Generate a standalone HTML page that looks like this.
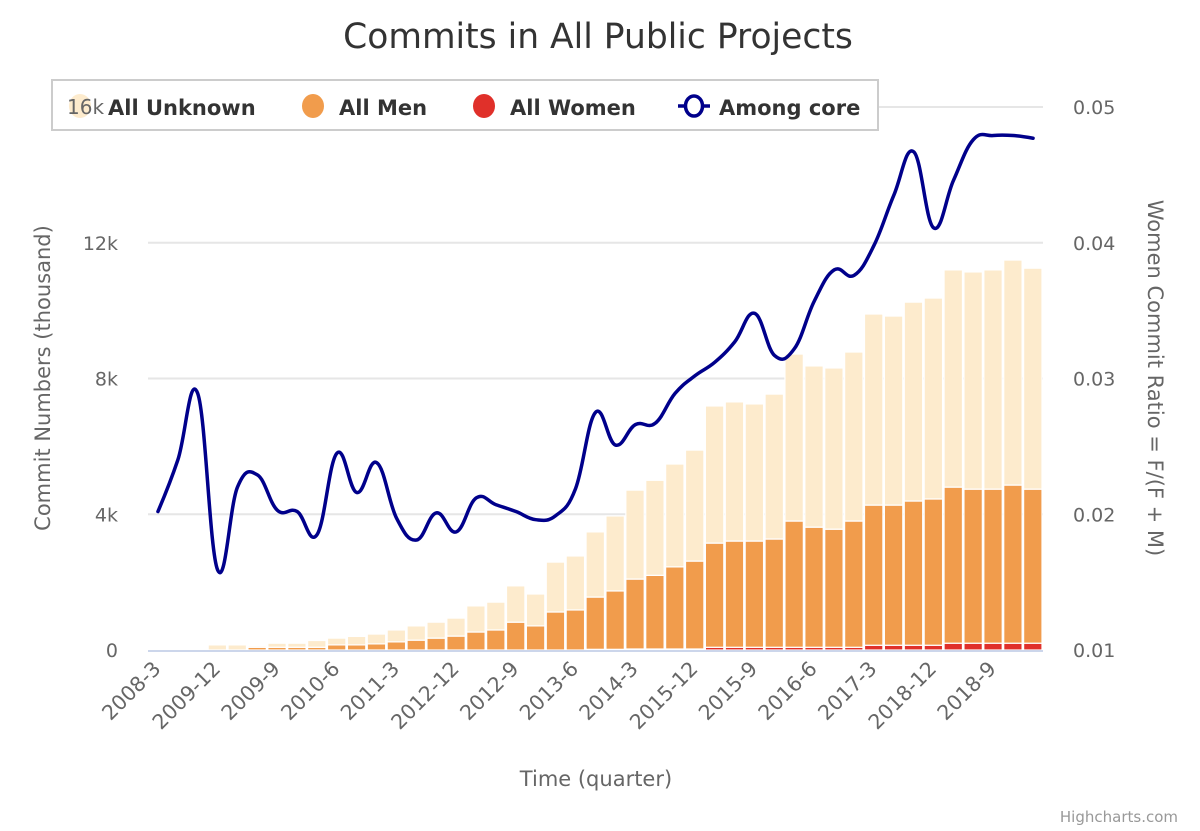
<!DOCTYPE html>
<html><head><meta charset="utf-8"><style>
body{margin:0;background:#fff;}
svg{display:block;font-family:"DejaVu Sans","Liberation Sans",sans-serif;}
</style></head><body>
<svg id="chart" width="1200" height="831">
<text x="598" y="48" text-anchor="middle" font-size="34.5" fill="#333">Commits in All Public Projects</text>
<g id="grid"></g>
<g id="bars"></g>
<g id="axes"></g>
<g id="line"></g>
<text x="0" y="0" transform="translate(50,378) rotate(-90)" text-anchor="middle" font-size="21" fill="#666">Commit Numbers (thousand)</text>
<text x="0" y="0" transform="translate(1148,378) rotate(90)" text-anchor="middle" font-size="21" fill="#666">Women Commit Ratio = F/(F + M)</text>
<text x="596" y="786" text-anchor="middle" font-size="21" fill="#666">Time (quarter)</text>
<text x="1178" y="822" text-anchor="end" font-size="15" fill="#999">Highcharts.com</text>
<g>
<rect x="52" y="80" width="826" height="50" fill="#fff" stroke="#ccc" stroke-width="2"/>
<g><ellipse cx="80" cy="106" rx="11" ry="12" fill="#fdebcd"/><text x="67" y="114" font-size="20" fill="#666">16k</text><text x="108" y="115" font-size="21" font-weight="bold" fill="#333">All Unknown</text></g>
<g><ellipse cx="313" cy="106" rx="11" ry="12" fill="#f19c4c"/><text x="339" y="115" font-size="21" font-weight="bold" fill="#333">All Men</text></g>
<g><ellipse cx="484" cy="106" rx="11" ry="12" fill="#e0302a"/><text x="510" y="115" font-size="21" font-weight="bold" fill="#333">All Women</text></g>
<g><line x1="678" y1="106" x2="710" y2="106" stroke="#00008b" stroke-width="3.5"/><ellipse cx="694" cy="106" rx="8.5" ry="10" fill="#fff" stroke="#00008b" stroke-width="3.5"/><text x="719" y="115" font-size="21" font-weight="bold" fill="#333">Among core</text></g>
</g>
</svg>
<script>
const categories = ["2008-3","2008-6","2008-9","2008-12","2009-3","2009-6","2009-9","2009-12","2010-3","2010-6","2010-9","2010-12","2011-3","2011-6","2011-9","2011-12","2012-3","2012-6","2012-9","2012-12","2013-3","2013-6","2013-9","2013-12","2014-3","2014-6","2014-9","2014-12","2015-3","2015-6","2015-9","2015-12","2016-3","2016-6","2016-9","2016-12","2017-3","2017-6","2017-9","2017-12","2018-3","2018-6","2018-9","2018-12","2019-3"];
const tickLabels = ["2008-3","2009-12","2009-9","2010-6","2011-3","2012-12","2012-9","2013-6","2014-3","2015-12","2015-9","2016-6","2017-3","2018-12","2018-9"];
const women = [0,0,0,0,0,0,0,0,0,0,0,0,0,0,0,0,0,0,0,0,0,0,0.02,0.02,0.03,0.03,0.03,0.03,0.08,0.08,0.08,0.08,0.08,0.08,0.08,0.08,0.14,0.14,0.14,0.14,0.2,0.2,0.2,0.2,0.2];
const men = [0,0,0,0,0,0.08,0.08,0.08,0.08,0.15,0.15,0.18,0.24,0.29,0.35,0.41,0.53,0.59,0.82,0.71,1.12,1.18,1.54,1.72,2.06,2.17,2.42,2.59,3.07,3.13,3.13,3.19,3.72,3.54,3.48,3.72,4.13,4.13,4.25,4.31,4.6,4.54,4.54,4.66,4.54];
const unknown = [0,0,0,0.15,0.15,0.04,0.12,0.12,0.2,0.2,0.25,0.29,0.35,0.42,0.47,0.53,0.77,0.82,1.07,0.94,1.47,1.59,1.92,2.21,2.62,2.8,3.03,3.27,4.04,4.1,4.04,4.27,4.92,4.75,4.75,4.98,5.63,5.57,5.86,5.92,6.4,6.4,6.46,6.63,6.51];
const ratio = [0.0202,0.024,0.0289,0.0159,0.022,0.0229,0.0203,0.0202,0.0185,0.0245,0.0216,0.0238,0.0197,0.0181,0.0201,0.0187,0.0212,0.0207,0.0202,0.0196,0.0199,0.0219,0.0275,0.0251,0.0266,0.0267,0.0289,0.0302,0.0312,0.0327,0.0348,0.0317,0.0322,0.0357,0.038,0.0376,0.0398,0.0435,0.0467,0.0411,0.0446,0.0476,0.0479,0.0479,0.0477];
const leftTicks = [0,4,8,12,16];
const leftTickLabels = ["0","4k","8k","12k","16k"];
const rightTicks = [0.01,0.02,0.03,0.04,0.05];
const rightTickLabels = ["0.01","0.02","0.03","0.04","0.05"];

const NS="http://www.w3.org/2000/svg";
const PL=148, PR=1043, PT=107, PB=650;
const cw=(PR-PL)/categories.length;
function xC(i){return PL+cw*(i+0.5);}
function yL(v){return PB-(v/16)*(PB-PT);}
function yR(v){return PB-((v-0.01)/0.04)*(PB-PT);}
function mk(tag,attrs,parent){const e=document.createElementNS(NS,tag);for(const k in attrs)e.setAttribute(k,attrs[k]);parent.appendChild(e);return e;}
const grid=document.getElementById('grid'),bars=document.getElementById('bars'),axes=document.getElementById('axes'),lineG=document.getElementById('line');
leftTicks.forEach((t,i)=>{
  if(i>0){const g=mk('line',{x1:PL,x2:PR,y1:yL(t),y2:yL(t),stroke:'#e6e6e6','stroke-width':2},grid);
  
  }
  if(i<leftTicks.length-1){const tx=mk('text',{x:118,y:yL(t)+7,'text-anchor':'end','font-size':19,fill:'#666'},axes);tx.textContent=leftTickLabels[i];
  
  }
});
rightTicks.forEach((t,i)=>{const tx=mk('text',{x:1073,y:yR(t)+7,'font-size':19,fill:'#666'},axes);tx.textContent=rightTickLabels[i];
  
  });
categories.forEach((c,i)=>{
  const x0=PL+cw*i+0.5, w=cw-1.5;
  let base=0;
  [[women[i],'#e0302a','bar-women'],[men[i],'#f19c4c','bar-men'],[unknown[i],'#fdebcd','bar-unknown']].forEach(([v,col,nm])=>{
    if(v>0){const y1=yL(base),y2=yL(base+v);
      const r=mk('rect',{x:x0,y:y2,width:w,height:Math.max(0.5,y1-y2),fill:col,stroke:'#fff','stroke-width':1.2},bars);
      
      }
    base+=v;});
});
const ax=mk('line',{x1:PL,x2:PR,y1:PB+1,y2:PB+1,stroke:'#ccd6eb','stroke-width':2},axes);


tickLabels.forEach((t,k)=>{const i=k*3;const x=xC(i)+4,y=PB+20;
  const tx=mk('text',{x:x,y:y,'text-anchor':'end','font-size':20.5,fill:'#666',transform:`rotate(-45 ${x} ${y})`},axes);tx.textContent=t;
  
  });
const pts=ratio.map((v,i)=>[xC(i),yR(v)]);
let d=`M${pts[0][0]},${pts[0][1]}`;
const sm=1.5,den=sm+1;
function ctrl(i){
  const p=pts[i],prev=pts[i-1],next=pts[i+1];
  let lx=(sm*p[0]+prev[0])/den,ly=(sm*p[1]+prev[1])/den,rx=(sm*p[0]+next[0])/den,ry=(sm*p[1]+next[1])/den;
  if(rx!==lx){const cor=((ry-ly)*(rx-p[0]))/(rx-lx)+p[1]-ry;ly+=cor;ry+=cor;}
  return [lx,ly,rx,ry];
}
const C=[];for(let i=1;i<pts.length-1;i++)C[i]=ctrl(i);
for(let i=1;i<pts.length;i++){
  const a=C[i-1]?[C[i-1][2],C[i-1][3]]:pts[i-1];
  const b=C[i]?[C[i][0],C[i][1]]:pts[i];
  d+=` C${a[0]},${a[1]} ${b[0]},${b[1]} ${pts[i][0]},${pts[i][1]}`;
}
const path=mk('path',{d:d,fill:'none',stroke:'#00008b','stroke-width':3.5,'stroke-linejoin':'round','stroke-linecap':'round'},lineG);


</script>
</body></html>
